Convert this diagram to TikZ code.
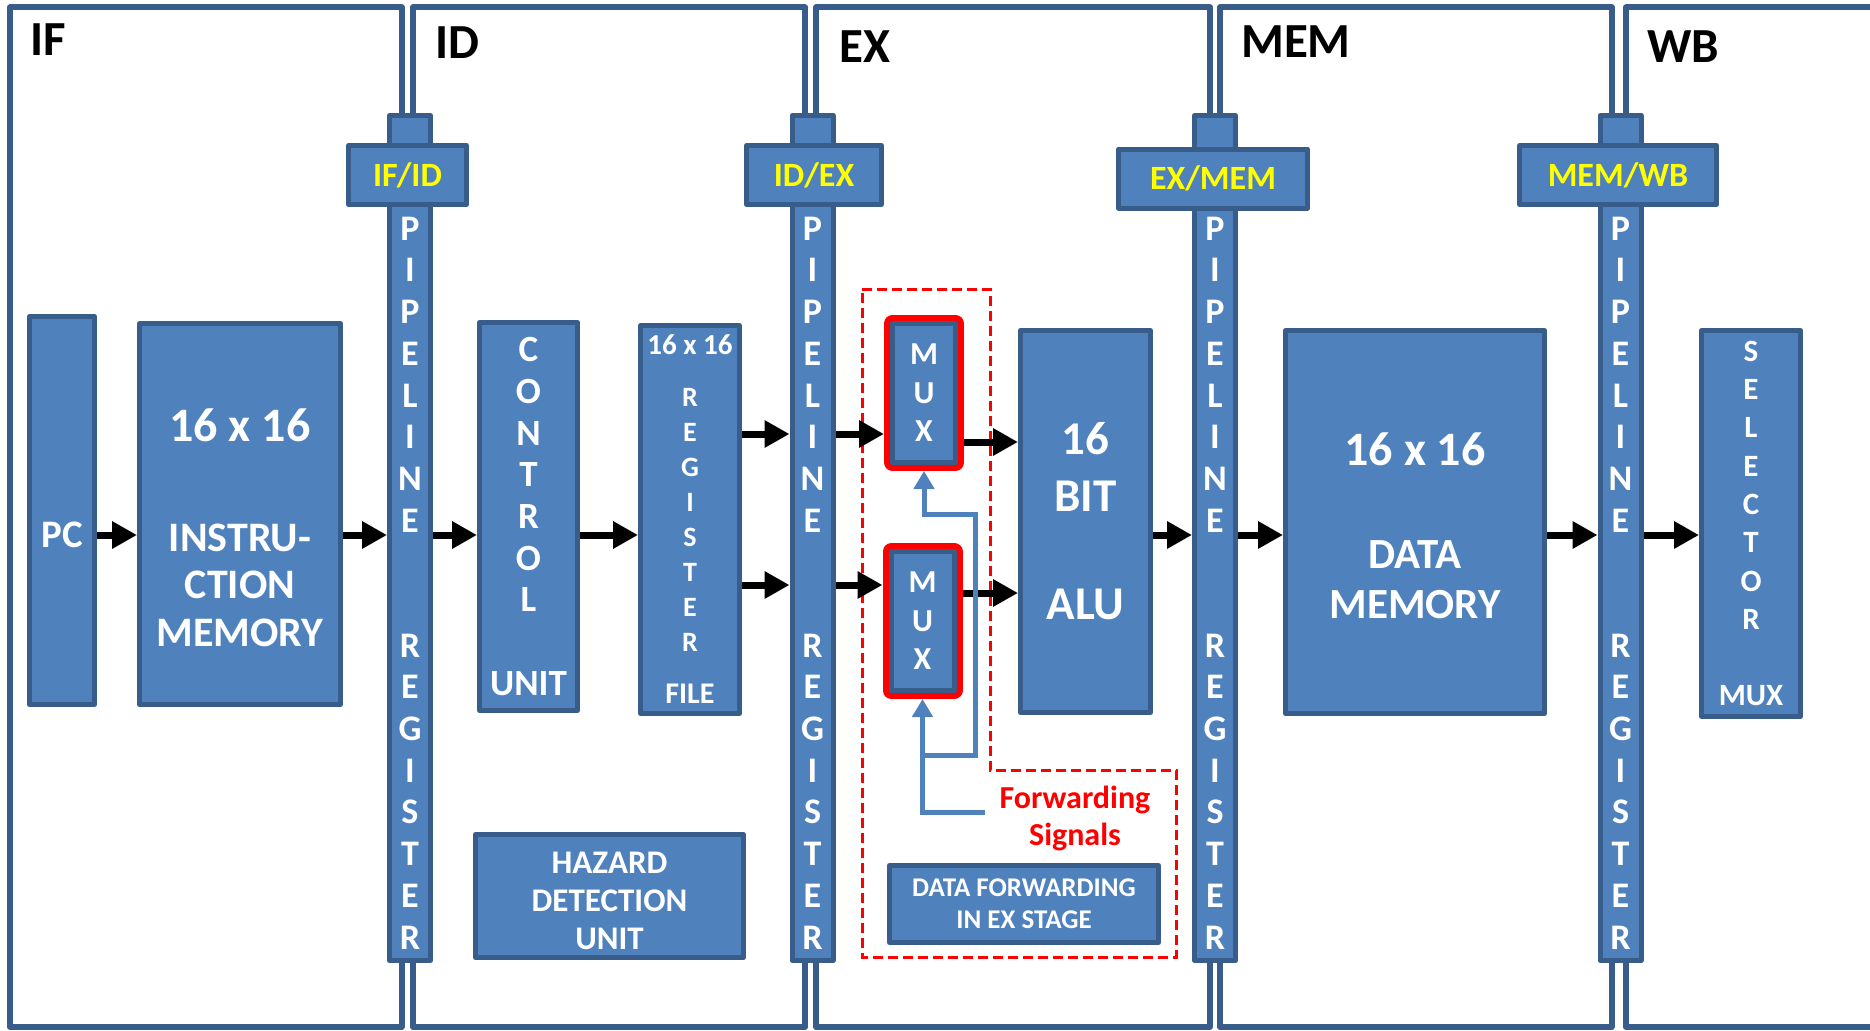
\documentclass[tikz,border=0pt]{standalone}
\usepackage{fontspec}
\setmainfont{Carlito}
\usetikzlibrary{arrows.meta}

\definecolor{unitblue}{HTML}{4F81BD}
\definecolor{edgeblue}{HTML}{385D8A}
\definecolor{tagyellow}{HTML}{FFFF00}

\newcommand{\fsz}[2]{\bfseries\fontsize{#1}{#2}\selectfont}
\newcommand{\pipeletters}{P\\I\\P\\E\\L\\I\\N\\E\\[83.3pt]R\\E\\G\\I\\S\\T\\E\\R}

\tikzset{
  stage/.style={draw=edgeblue, line width=6, line join=round},
  stagename/.style={anchor=base west, inner sep=0, font=\fsz{49}{54}},
  unit/.style={draw=edgeblue, fill=unitblue, line width=5, line join=round, text=white, align=center, inner sep=0},
  pipebar/.style={unit, minimum width=41, minimum height=845},
  pipetag/.style={unit, minimum height=59, text=tagyellow, font=\fsz{34}{40}},
  pipetext/.style={text=white, align=center, font=\fsz{36}{41.7}},
  muxunit/.style={unit, minimum width=63, minimum height=139, outer sep=8.5, font=\fsz{32}{38.5}, preaction={draw=red, line width=17, line join=round}},
  flow/.style={draw=black, line width=7, -{Triangle[length=25pt,width=26pt]}},
  fwdline/.style={draw=unitblue, line width=5, -{Triangle[length=18pt,width=20pt]}},
  fwdzone/.style={draw=red, line width=3, dash pattern=on 10pt off 5pt}
}

\begin{document}
\begin{tikzpicture}[x=1pt, y=-1pt]
  \useasboundingbox (0,0) rectangle (1870,1030);

  \draw[stage] (10,7.5) rectangle (401.5,1027);
  \draw[stage] (413,7.5) rectangle (805,1027);
  \draw[stage] (816,7.5) rectangle (1210,1027);
  \draw[stage] (1220,7.5) rectangle (1611.5,1027);
  \draw[stage] (1626,7.5) rectangle (1900,1027);

  \node[stagename] (if-name) at (30,56) {IF};
  \node[stagename] (id-name) at (435,59) {ID};
  \node[stagename] (ex-name) at (839,63) {EX};
  \node[stagename] (mem-name) at (1241,58) {MEM};
  \node[stagename] (wb-name) at (1647,63) {WB};

  \draw[fwdzone] (862,289) -- (990,289) -- (990,770) -- (1176,770) -- (1176,957) -- (862,957) -- cycle;

  \node[pipebar] (ifid) at (410,538) {};
  \node[pipetag, minimum width=118] (ifid-tag) at (407.5,175) {IF/ID};
  \node[pipetext] (ifid-text) at (410,583) {\pipeletters};

  \node[pipebar] (idex) at (812.5,538) {};
  \node[pipetag, minimum width=135] (idex-tag) at (814,175) {ID/EX};
  \node[pipetext] (idex-text) at (812.5,583) {\pipeletters};

  \node[pipebar] (exmem) at (1215,538) {};
  \node[pipetag, minimum width=189] (exmem-tag) at (1213,178.5) {EX/MEM};
  \node[pipetext] (exmem-text) at (1215,583) {\pipeletters};

  \node[pipebar] (memwb) at (1620.5,538) {};
  \node[pipetag, minimum width=197] (memwb-tag) at (1618,175) {MEM/WB};
  \node[pipetext] (memwb-text) at (1620.5,583) {\pipeletters};

  \node[unit, minimum width=65, minimum height=388] (pc) at (62,510.5) {};
  \node[text=white, font=\fsz{39}{40}] (pc-text) at (62,535) {PC};
  \node[unit, minimum width=201, minimum height=381] (imem) at (240,514) {};
  \node[text=white, align=center, font=\fsz{42}{47.5}] (imem-text) at (240,528) {{\fsz{48}{47.5}16 x 16}\\[62pt]INSTRU-\\CTION\\MEMORY};

  \node[unit, minimum width=98, minimum height=388, font=\fsz{37}{41.7}] (ctrl) at (528.5,516.5) {C\\O\\N\\T\\R\\O\\L\\[41.7pt]UNIT};
  \node[unit, minimum width=99, minimum height=388, font=\fsz{28}{35}] (regs) at (690,519.5) {{\fsz{29}{35}16 x 16}\\[17pt]R\\E\\G\\I\\S\\T\\E\\R\\[17pt]{\fsz{30}{35}FILE}};
  \node[unit, minimum width=268, minimum height=123, font=\fsz{33}{38}] (hazard) at (609.5,896) {\rule{0pt}{31pt}HAZARD\\DETECTION\\UNIT};

  \node[muxunit] (mux-a) at (924,393) {M\\U\\X};
  \node[muxunit] (mux-b) at (922.5,621) {M\\U\\X};
  \node[unit, minimum width=130, minimum height=382, font=\fsz{47}{57}] (alu) at (1085.5,521.5) {16\\BIT\\[51pt]ALU};
  \node[unit, minimum width=269, minimum height=77, font=\fsz{27}{32}] (dfwd) at (1024,904) {DATA FORWARDING\\IN EX STAGE};
  \node[text=red, align=center, font=\fsz{32}{37}] (fwd-text) at (1075,818) {Forwarding\\Signals};

  \node[unit, minimum width=259, minimum height=383, font=\fsz{43}{50}] (dmem) at (1415,522) {{\fsz{48}{50}\rule{0pt}{40pt}16 x 16}\\[53.5pt]DATA\\MEMORY};

  \node[unit, minimum width=99, minimum height=386, font=\fsz{31}{38.3}] (selmux) at (1751,523.5) {S\\E\\L\\E\\C\\T\\O\\R\\[38.3pt]MUX};

  \coordinate (main-row) at (0,535);
  \coordinate (upper-row) at (0,434);
  \coordinate (lower-row) at (0,585);
  \coordinate (upper-out) at (0,442);
  \coordinate (lower-out) at (0,593);

  \draw[flow] (pc.east |- main-row) -- (imem.west |- main-row);
  \draw[flow] (imem.east |- main-row) -- (ifid.west |- main-row);
  \draw[flow] (ifid.east |- main-row) -- (ctrl.west |- main-row);
  \draw[flow] (ctrl.east |- main-row) -- (regs.west |- main-row);
  \draw[flow] (regs.east |- upper-row) -- (idex.west |- upper-row);
  \draw[flow] (regs.east |- lower-row) -- (idex.west |- lower-row);
  \draw[flow] (idex.east |- upper-row) -- (mux-a.west |- upper-row);
  \draw[flow] (idex.east |- lower-row) -- (mux-b.west |- lower-row);
  \draw[flow] (mux-a.east |- upper-out) -- (alu.west |- upper-out);
  \draw[flow] (mux-b.east |- lower-out) -- (alu.west |- lower-out);
  \draw[flow] (alu.east |- main-row) -- (exmem.west |- main-row);
  \draw[flow] (exmem.east |- main-row) -- (dmem.west |- main-row);
  \draw[flow] (dmem.east |- main-row) -- (memwb.west |- main-row);
  \draw[flow] (memwb.east |- main-row) -- (selmux.west |- main-row);

  \coordinate (fwd-in) at (985,812);
  \coordinate (fwd-tap) at (922.5,755);
  \coordinate (fwd-turn) at (975,514);
  \draw[fwdline] (fwd-in) -| (mux-b.south);
  \draw[fwdline] (fwd-tap) -| (fwd-turn) -| (mux-a.south);
\end{tikzpicture}
\end{document}
